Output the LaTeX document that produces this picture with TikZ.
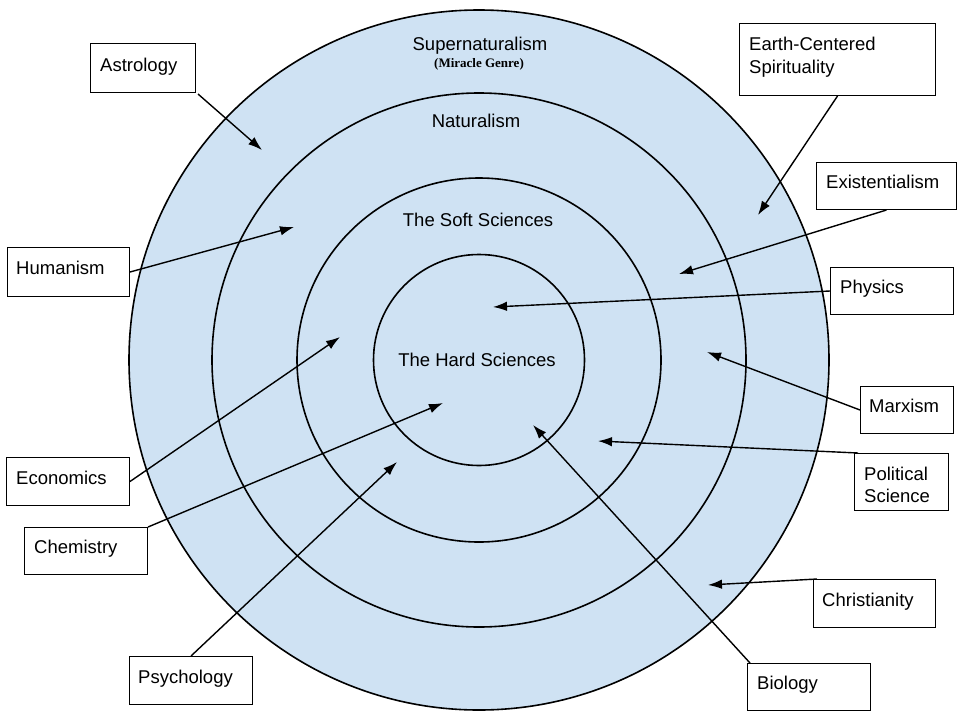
\documentclass[tikz,border=0pt]{standalone}
\usepackage{fontspec}
\setmainfont{Liberation Sans}
\newfontfamily\serifbold{Liberation Serif}
\usetikzlibrary{arrows.meta}
\definecolor{ringblue}{HTML}{CFE2F3}
\begin{document}
\begin{tikzpicture}[x=1pt,y=-1pt,
  ring/.style={draw=black, line width=1.6pt, fill=ringblue},
  box/.style={draw=black, line width=1pt, fill=white, inner sep=0pt, anchor=north west},
  lbl/.style={font=\fontsize{18.5}{22}\selectfont, inner sep=0pt, anchor=base west},
  ctr/.style={font=\fontsize{18.5}{22}\selectfont, inner sep=0pt, anchor=base},
  arr/.style={line width=1.4pt, -{Latex[length=14pt,width=9.5pt]}}]
\useasboundingbox (0,0) rectangle (960,720);
\fill[white] (0,0) rectangle (960,720);
% rings
\draw[ring] (479,360) circle[radius=350];
\draw[ring] (479,360) circle[radius=267];
\draw[ring] (479,360) circle[radius=182];
\draw[ring] (479,360) circle[radius=105.5];
% ring labels
\node[ctr] (super) at (480,50) {Supernaturalism};
\node[inner sep=0pt, anchor=base, font=\serifbold\bfseries\fontsize{13}{15}\selectfont] (mirac) at (479,67) {(Miracle Genre)};
\node[ctr] (natur) at (476,127) {Naturalism};
\node[ctr] (soft) at (478,226) {The Soft Sciences};
\node[ctr] (hard) at (477,366) {The Hard Sciences};
% boxes
\node[box, minimum width=105, minimum height=49] (astro) at (90,43) {};
\node[lbl] (astroT) at (100,71) {Astrology};
\node[box, minimum width=122, minimum height=49] (human) at (7,247) {};
\node[lbl] (humanT) at (16,274) {Humanism};
\node[box, minimum width=196, minimum height=72] (earth) at (739,23) {};
\node[lbl] (earthT) at (749,50) {Earth-Centered};
\node[lbl] (earthT2) at (749,73) {Spirituality};
\node[box, minimum width=140, minimum height=47] (exist) at (816,162) {};
\node[lbl] (existT) at (826,188) {Existentialism};
\node[box, minimum width=123, minimum height=47] (phys) at (830,267) {};
\node[lbl] (physT) at (840,293) {Physics};
\node[box, minimum width=93, minimum height=47] (marx) at (860,386) {};
\node[lbl] (marxT) at (869,412) {Marxism};
\node[box, minimum width=94, minimum height=57] (polit) at (854,453) {};
\node[lbl] (politT) at (864,480) {Political};
\node[lbl] (politT2) at (864,502) {Science};
\node[box, minimum width=122, minimum height=48] (chris) at (813,579) {};
\node[lbl] (chrisT) at (822,606) {Christianity};
\node[box, minimum width=123, minimum height=47] (bio) at (747,663) {};
\node[lbl] (bioT) at (757,689) {Biology};
\node[box, minimum width=123, minimum height=48] (econ) at (6,457) {};
\node[lbl] (econT) at (16,484) {Economics};
\node[box, minimum width=123, minimum height=47] (chem) at (24,527) {};
\node[lbl] (chemT) at (34,553) {Chemistry};
\node[box, minimum width=123, minimum height=48] (psych) at (129,656) {};
\node[lbl] (psychT) at (138,683) {Psychology};
% arrow targets
\coordinate (tAstro) at (262,150);
\coordinate (tHuman) at (294,227);
\coordinate (tEarth) at (758,215);
\coordinate (tExist) at (679,274);
\coordinate (tPhys) at (493,307);
\coordinate (tMarx) at (707,352);
\coordinate (tPolit) at (598,441);
\coordinate (tChris) at (708,585);
\coordinate (tBio) at (533,425);
\coordinate (tEcon) at (340,337);
\coordinate (tChem) at (443,403);
\coordinate (tPsych) at (397,462);
% arrows
\draw[arr] ([shift={(2,1)}]astro.south east) -- (tAstro);
\draw[arr] (human.east) -- (tHuman);
\draw[arr] (earth.south) -- (tEarth);
\draw[arr] (exist.south) -- (tExist);
\draw[arr] (phys.west) -- (tPhys);
\draw[arr] (marx.west) -- (tMarx);
\draw[arr] ([xshift=4]polit.north west) -- (tPolit);
\draw[arr] ([xshift=4]chris.north west) -- (tChris);
\draw[arr] ([xshift=3]bio.north west) -- (tBio);
\draw[arr] (econ.east) -- (tEcon);
\draw[arr] (chem.north east) -- (tChem);
\draw[arr] (psych.north) -- (tPsych);
\end{tikzpicture}
\end{document}
